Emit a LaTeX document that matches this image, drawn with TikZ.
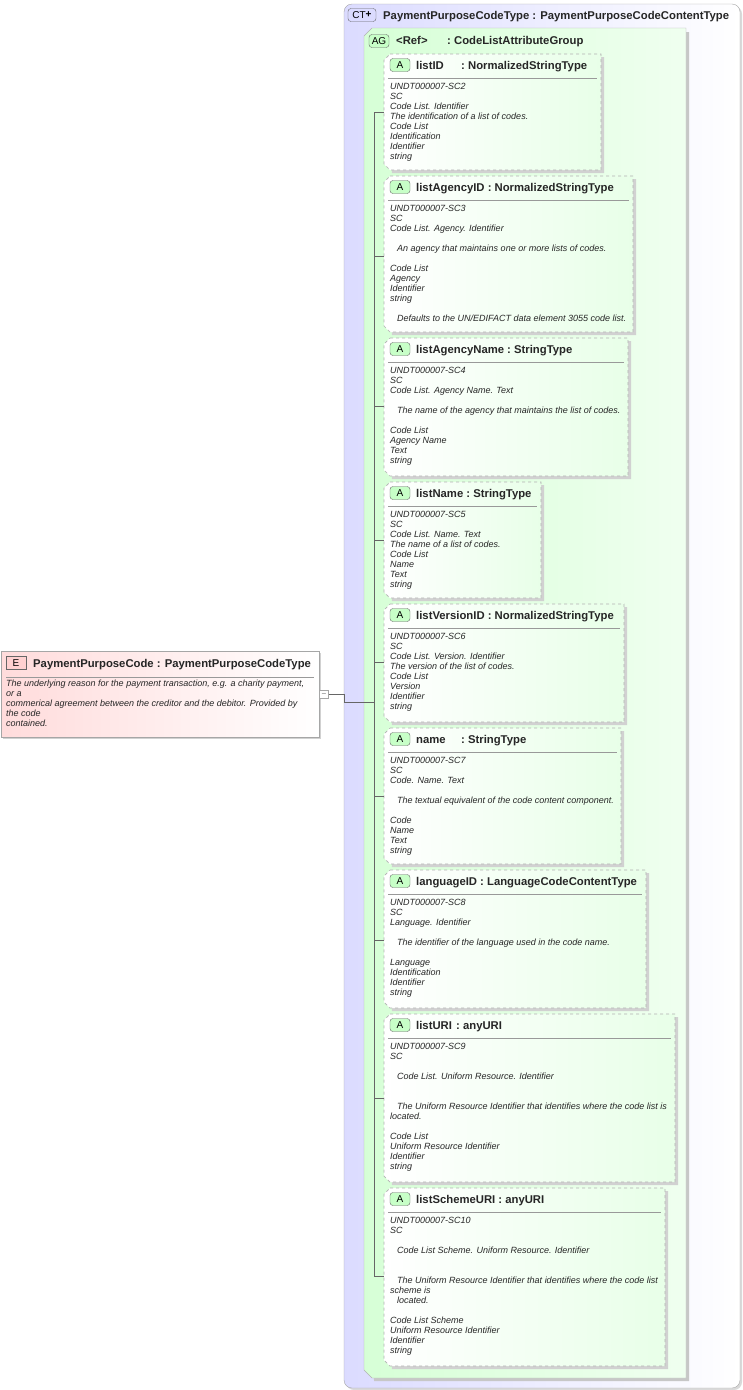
\documentclass[tikz,border=0pt]{standalone}
\usepackage{fontspec}
\setmainfont{Liberation Sans}
\tikzset{
 badge/.style={draw=gray!80!black,rounded corners=3pt,minimum width=20pt,minimum height=13pt,inner sep=0pt,font=\fontsize{10}{10}\selectfont},
 ttl/.style={anchor=base west,inner sep=0pt,font=\fontsize{11.3}{13}\selectfont\bfseries,text=black!85},
 body/.style={anchor=north west,align=left,inner sep=0pt,font=\fontsize{9}{10}\selectfont\itshape,text=black!85},
 sep/.style={draw=gray!80,line width=0.8pt},
 tree/.style={draw=gray!80!black,line width=0.5pt}
}
\newcommand\hd[2]{\if\relax\detokenize{#1}\relax #2\ \else\makebox[#1][l]{#2}\fi}
\newcommand\attrbox[9]{%
 \fill[black!18] (386,#2+3) -- (#3+3,#2+3) -- (#3+3,#4+3) -- (392,#4+3) -- cycle;
 \shadedraw[left color=white,right color=green!9,draw=gray!60,dashed,line width=0.7pt] (390,#2) -- (#3,#2) -- (#3,#4) -- (390,#4) -- (384,#4-6) -- (384,#2+6) -- cycle;
 \node[badge,fill=green!22] (b#1) at (400,#2+11) {A};
 \node[ttl] (n#1) at (416,#2+15) {\hd{#6}{#5}:\ #7};
 \draw[sep] (388,#2+24) -- (#3-4,#2+24);
 \node[body] (d#1) at (390,#2+29) {#8};
 \coordinate (t#1) at (384,#9);
}
\begin{document}
\begin{tikzpicture}[x=1pt,y=-1pt]
\useasboundingbox (0,0) rectangle (743,1390);
% CT box
\fill[black!15,rounded corners=8pt] (346,6) rectangle (742,1390);
\shadedraw[left color=blue!14,right color=white,draw=gray!70,rounded corners=8pt] (344,4) rectangle (740,1388);
\node[badge,fill=blue!14,minimum width=28pt] (ct) at (362,15) {CT\raisebox{0.5pt}{\textbf{+}}};
\node[ttl] (ctt) at (383,19) {PaymentPurposeCodeType : PaymentPurposeCodeContentType};
% AG box
\fill[black!22] (368,32) -- (689,32) -- (689,1381) -- (374,1381) -- cycle;
\shadedraw[left color=green!16,right color=green!6,draw=gray!60] (372,28) -- (686,28) -- (686,1378) -- (372,1378) -- (364,1370) -- (364,36) -- cycle;
\node[badge,fill=green!22] (ag) at (379,41) {AG};
\node[ttl] (agt) at (396,44) {\makebox[51pt][l]{<Ref>}:\ CodeListAttributeGroup};
% element
\fill[black!18] (3,653) rectangle (321,739);
\shadedraw[left color=red!14,right color=white,draw=gray!70] (1,651) rectangle (319,737);
\node[badge,fill=red!18,rounded corners=0pt] (eb) at (16,663) {E};
\node[ttl] (et) at (33,667) {PaymentPurposeCode : PaymentPurposeCodeType};
\draw[sep] (6,677) -- (314,677);
\node[body] (ed) at (6,680) {The underlying reason for the payment transaction, e.g. a charity payment,\\or a\\commerical agreement between the creditor and the debitor. Provided by\\the code\\contained.};
\node[draw=gray!70,fill=white,minimum width=9pt,minimum height=8pt,inner sep=0pt,font=\fontsize{6}{6}\selectfont] (col) at (324,694) {$-$};
\attrbox{1}{54}{601}{170}{listID}{45pt}{NormalizedStringType}{UNDT000007-SC2\\SC\\Code List. Identifier\\The identification of a list of codes.\\Code List\\Identification\\Identifier\\string}{112}
\attrbox{2}{176}{633}{332}{listAgencyID}{}{NormalizedStringType}{UNDT000007-SC3\\SC\\Code List. Agency. Identifier\\[10pt]\hspace*{7pt}An agency that maintains one or more lists of codes.\\[10pt]Code List\\Agency\\Identifier\\string\\[10pt]\hspace*{7pt}Defaults to the UN/EDIFACT data element 3055 code list.}{256}
\attrbox{3}{338}{628}{476}{listAgencyName}{}{StringType}{UNDT000007-SC4\\SC\\Code List. Agency Name. Text\\[10pt]\hspace*{7pt}The name of the agency that maintains the list of codes.\\[10pt]Code List\\Agency Name\\Text\\string}{406}
\attrbox{4}{482}{541}{598}{listName}{}{StringType}{UNDT000007-SC5\\SC\\Code List. Name. Text\\The name of a list of codes.\\Code List\\Name\\Text\\string}{540}
\attrbox{5}{604}{624}{722}{listVersionID}{}{NormalizedStringType}{UNDT000007-SC6\\SC\\Code List. Version. Identifier\\The version of the list of codes.\\Code List\\Version\\Identifier\\string}{662}
\attrbox{6}{728}{621}{864}{name}{45pt}{StringType}{UNDT000007-SC7\\SC\\Code. Name. Text\\[10pt]\hspace*{7pt}The textual equivalent of the code content component.\\[10pt]Code\\Name\\Text\\string}{796}
\attrbox{7}{870}{646}{1008}{languageID}{}{LanguageCodeContentType}{UNDT000007-SC8\\SC\\Language. Identifier\\[10pt]\hspace*{7pt}The identifier of the language used in the code name.\\[10pt]Language\\Identification\\Identifier\\string}{940}
\attrbox{8}{1014}{675}{1182}{listURI}{40pt}{anyURI}{UNDT000007-SC9\\SC\\[10pt]\hspace*{7pt}Code List. Uniform Resource. Identifier\\[20pt]\hspace*{7pt}The Uniform Resource Identifier that identifies where the code list is\\located.\\[10pt]Code List\\Uniform Resource Identifier\\Identifier\\string}{1098}
\attrbox{9}{1188}{665}{1366}{listSchemeURI}{}{anyURI}{UNDT000007-SC10\\SC\\[10pt]\hspace*{7pt}Code List Scheme. Uniform Resource. Identifier\\[20pt]\hspace*{7pt}The Uniform Resource Identifier that identifies where the code list\\scheme is\\\hspace*{7pt}located.\\[10pt]Code List Scheme\\Uniform Resource Identifier\\Identifier\\string}{1276}
% tree
\coordinate (tv) at (374,702);
\draw[tree] (col.east) -- (344,694) -- (344,702) -- (tv);
\draw[tree] (t1) -- (374,112) -- (374,1276) -- (t9);
\foreach \i/\yy in {2/256,3/406,4/540,5/662,6/796,7/940,8/1098}{\draw[tree] (374,\yy) -- (t\i);}
\end{tikzpicture}
\end{document}
